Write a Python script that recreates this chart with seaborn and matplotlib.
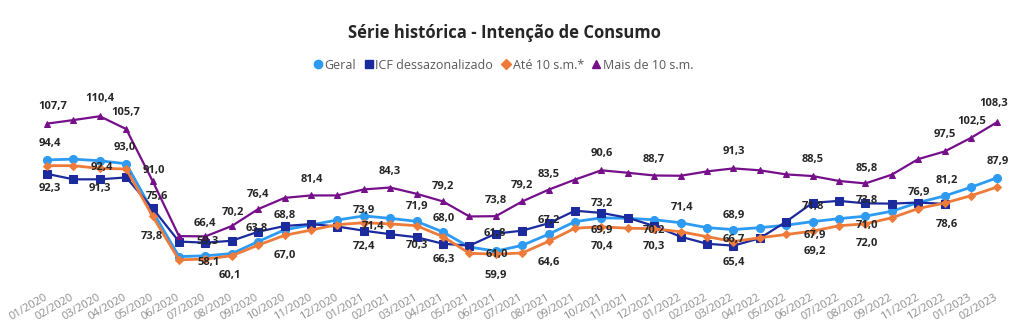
import matplotlib
matplotlib.use("Agg")
import matplotlib.pyplot as plt
from matplotlib.lines import Line2D
import seaborn as sns
import numpy as np
import pandas as pd

# ---------------- data ----------------
months = ["01/2020", "02/2020", "03/2020", "04/2020", "05/2020", "06/2020", "07/2020",
          "08/2020", "09/2020", "10/2020", "11/2020", "12/2020",
          "01/2021", "02/2021", "03/2021", "04/2021", "05/2021", "06/2021", "07/2021",
          "08/2021", "09/2021", "10/2021", "11/2021", "12/2021",
          "01/2022", "02/2022", "03/2022", "04/2022", "05/2022", "06/2022", "07/2022",
          "08/2022", "09/2022", "11/2022", "12/2022", "01/2023", "02/2023"]

geral = [94.4, 94.7, 94.1, 93.0, 75.6, 59.0, 59.3, 60.1, 64.5, 68.8, 70.6, 72.4,
         73.9, 73.0, 71.9, 68.0, 62.5, 61.0, 63.1, 67.2, 71.8, 73.2, 73.0, 72.5,
         71.4, 69.6, 68.9, 69.6, 70.5, 71.8, 72.9, 73.8, 75.6, 78.8, 81.2, 84.4, 87.9]

icf_dessaz = [89.3, 87.3, 87.3, 88.0, 76.7, 64.5, 64.1, 64.8, 68.1, 70.2, 70.9, 70.0,
              68.5, 67.2, 66.1, 63.7, 63.0, 67.4, 68.5, 71.2, 75.8, 75.0, 73.2, 70.2,
              66.3, 63.7, 63.0, 65.7, 71.8, 78.7, 79.4, 78.5, 78.4, 78.8, 78.3, None, None]

ate_10 = [92.3, 92.3, 91.3, 91.1, 73.8, 57.8, 58.1, 59.3, 63.2, 66.8, 68.7, 70.7,
          71.4, 71.0, 70.3, 66.3, 60.2, 59.9, 60.3, 64.6, 69.4, 69.9, 69.4, 69.2,
          68.1, 66.3, 64.5, 65.9, 67.1, 68.3, 70.3, 71.0, 73.2, 76.6, 78.6, 81.3, 84.5]

mais_10 = [107.7, 109.0, 110.4, 105.7, 86.7, 66.5, 66.4, 70.2, 76.4, 80.5, 81.4, 81.4,
           83.6, 84.3, 82.0, 79.2, 73.7, 73.8, 79.2, 83.5, 87.2, 90.6, 89.7, 88.7,
           88.6, 90.2, 91.3, 90.6, 89.1, 88.5, 86.7, 85.8, 89.0, 94.7, 97.5, 102.5, 108.3]

series_names = ["Geral", "ICF dessazonalizado", "Até 10 s.m.*", "Mais de 10 s.m."]

# data labels as printed on the chart: text, x (month index), y (value scale)
label_texts = ["107,7", "110,4", "105,7", "94,4", "93,0", "92,4", "92,3", "91,3", "91,0",
               "75,6", "73,8", "66,4", "59,3", "70,2", "58,1", "60,1", "76,4", "81,4",
               "84,3", "79,2", "73,9", "71,9", "68,8", "63,8", "71,4", "68,0", "72,4",
               "70,3", "67,0", "66,3", "61,8", "61,0", "59,9", "73,8", "79,2", "83,5",
               "90,6", "88,7", "91,3", "73,2", "67,2", "71,4", "68,9", "69,9", "70,2",
               "64,6", "70,4", "70,3", "66,7", "65,4", "88,5", "85,8", "97,5", "102,5",
               "108,3", "87,9", "81,2", "76,9", "71,8", "73,8", "67,9", "71,0", "69,2",
               "72,0", "78,6"]
label_x = [0.23, 2.0, 3.0, 0.11, 2.95, 2.07, 0.11, 2.0, 4.03,
           4.16, 3.97, 5.98, 6.1, 7.06, 6.11, 6.93, 8.0, 10.03,
           12.99, 15.01, 12.02, 14.0, 9.02, 7.94, 12.36, 15.01, 12.02,
           14.0, 9.02, 15.01, 16.97, 17.03, 17.0, 17.0, 17.98, 18.99,
           21.01, 22.99, 26.0, 21.01, 18.99, 24.04, 26.0, 21.01, 22.99,
           18.99, 21.01, 22.99, 26.0, 26.0, 29.0, 31.05, 34.0, 35.03,
           35.85, 36.0, 34.08, 33.04, 29.03, 31.05, 29.09, 31.05, 29.09,
           31.05, 34.08]
label_y = [113.9, 117.0, 111.9, 100.5, 98.9, 91.7, 84.0, 83.8, 90.5,
           80.9, 66.3, 71.2, 64.5, 75.2, 56.9, 51.9, 81.8, 87.3,
           90.1, 84.6, 75.8, 77.3, 73.9, 69.4, 70.2, 73.0, 62.6,
           62.9, 59.3, 58.1, 67.3, 59.6, 51.9, 79.5, 84.9, 88.9,
           96.6, 94.4, 97.5, 78.5, 72.4, 76.9, 74.2, 68.5, 68.5,
           56.8, 62.6, 62.6, 65.3, 56.8, 94.4, 91.3, 103.8, 108.4,
           114.9, 93.8, 86.8, 82.5, 77.3, 79.5, 66.9, 70.3, 60.8,
           63.9, 70.6]

# ---------------- style ----------------
sns.set_theme(style="white")
plt.rcParams["font.family"] = ["Open Sans", "DejaVu Sans"]

colors = ["#2E9BF2", "#1B2A9C", "#EE7B3A", "#760F8A"]
markers = ["o", "s", "D", "^"]
msizes = [5.8, 6.0, 4.5, 5.0]
lwidths = [2.0, 1.6, 2.0, 1.6]

fig = plt.figure(figsize=(10.24, 3.34), dpi=100)
ax = fig.add_axes([0.0330, 0.1582, 0.9539, 0.5722])

x = np.arange(len(months))
all_series = [geral, icf_dessaz, ate_10, mais_10]
for vals, name, c, m, ms, lw in zip(all_series, series_names, colors, markers, msizes, lwidths):
    df = pd.DataFrame({"x": x, "y": pd.to_numeric(pd.Series(vals), errors="coerce")}).dropna()
    sns.lineplot(data=df, x="x", y="y", ax=ax, color=c, marker=m, markersize=ms,
                 markeredgecolor=c, linewidth=lw, legend=False)

for t, lx, ly in zip(label_texts, label_x, label_y):
    ax.text(lx, ly, t, ha="center", va="center", fontsize=8, fontweight="bold",
            color="#262626", zorder=10)

ax.set_xlim(-0.5, len(months) - 0.5)
ax.set_ylim(50, 120)
ax.set_xlabel("")
ax.set_ylabel("")
ax.set_yticks([])
ax.set_xticks(x)
ax.set_xticklabels(months, rotation=30, ha="right", va="center", rotation_mode="anchor",
                   fontsize=8, color="#8C8C8C")
ax.tick_params(axis="x", length=0, pad=11)
for s in ax.spines.values():
    s.set_visible(False)

handles = [Line2D([], [], linestyle="none", marker=m, color=c, markersize=ms)
           for c, m, ms in zip(colors, markers, [6, 6, 5, 6])]
fig.legend(handles, series_names, loc="center", bbox_to_anchor=(0.492, 0.805), ncol=4,
           frameon=False, handlelength=0.6, handletextpad=0.25, columnspacing=0.7,
           prop={"size": 9}, labelcolor="#595959")

fig.text(0.493, 0.901, "Série histórica - Intenção de Consumo", ha="center", va="center",
         fontsize=12, fontweight="bold", color="#262626")

fig.savefig("out.png", dpi=100)
